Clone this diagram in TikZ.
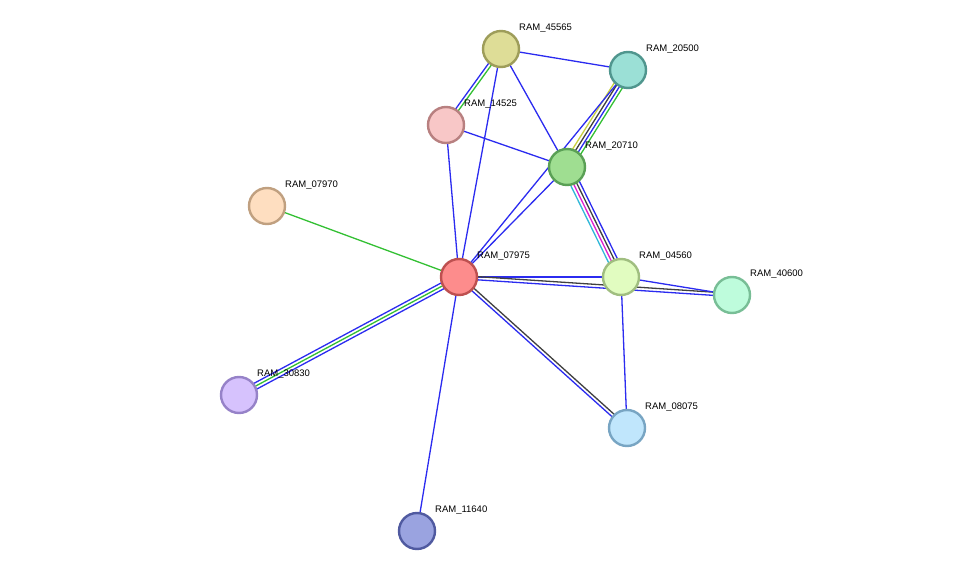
\documentclass[tikz,border=0pt]{standalone}
\usepackage{fontspec}
\setmainfont{Liberation Sans}
\usetikzlibrary{calc}
\definecolor{eb}{HTML}{2B2BF0}
\definecolor{eg}{HTML}{33C033}
\definecolor{ek}{HTML}{404040}
\definecolor{ey}{HTML}{C8D040}
\definecolor{em}{HTML}{E020D0}
\definecolor{ec}{HTML}{30B8D8}
\newcommand{\pe}[4]{\draw[#4,line width=1.3pt] ($(#1)!#3!90:(#2)$) -- ($(#2)!#3!-90:(#1)$);}
\begin{document}
\begin{tikzpicture}[x=1pt,y=-1pt,
  prot/.style={circle,minimum size=36pt,inner sep=0pt,line width=2.4pt},
  lab/.style={font=\fontsize{9.5pt}{10pt}\selectfont,anchor=south west,inner sep=0pt}]
\useasboundingbox (0,0) rectangle (975,577);
\fill[white] (0,0) rectangle (975,577);
\coordinate (n45565) at (501,49);
\coordinate (n20500) at (628,70);
\coordinate (n14525) at (446,125);
\coordinate (n20710) at (567,167);
\coordinate (n07970) at (267,206);
\coordinate (n07975) at (459,277);
\coordinate (n04560) at (621,277);
\coordinate (n40600) at (732,295);
\coordinate (n30830) at (239,395);
\coordinate (n08075) at (627,428);
\coordinate (n11640) at (417,531);
% edges
\pe{n45565}{n14525}{1.6pt}{eg}
\pe{n45565}{n14525}{-1.6pt}{eb}
\pe{n45565}{n20500}{0pt}{eb}
\pe{n45565}{n20710}{0pt}{eb}
\pe{n45565}{n07975}{0pt}{eb}
\pe{n14525}{n20710}{0pt}{eb}
\pe{n14525}{n07975}{0pt}{eb}
\pe{n20500}{n20710}{-4.8pt}{ey}
\pe{n20500}{n20710}{-1.6pt}{ek}
\pe{n20500}{n20710}{1.6pt}{eb}
\pe{n20500}{n20710}{4.8pt}{eg}
\pe{n20500}{n07975}{0pt}{eb}
\pe{n20710}{n07975}{0pt}{eb}
\pe{n20710}{n04560}{-4.8pt}{ec}
\pe{n20710}{n04560}{-1.6pt}{em}
\pe{n20710}{n04560}{1.6pt}{ek}
\pe{n20710}{n04560}{4.8pt}{eb}
\pe{n07975}{n04560}{0pt}{eb}
\pe{n07975}{n40600}{-1.6pt}{eb}
\pe{n07975}{n40600}{1.6pt}{ek}
\pe{n04560}{n40600}{0pt}{eb}
\pe{n07975}{n08075}{-1.6pt}{eb}
\pe{n07975}{n08075}{1.6pt}{ek}
\pe{n04560}{n08075}{0pt}{eb}
\pe{n07975}{n30830}{-3.2pt}{eb}
\pe{n07975}{n30830}{0pt}{eg}
\pe{n07975}{n30830}{3.2pt}{eb}
\pe{n07975}{n11640}{0pt}{eb}
\pe{n07970}{n07975}{0pt}{eg}
% nodes
\node[prot,fill={rgb,255:red,222;green,221;blue,151},draw={rgb,255:red,158;green,157;blue,90}] (a) at (n45565) {};
\node[prot,fill={rgb,255:red,155;green,224;blue,214},draw={rgb,255:red,80;green,150;blue,142}] (b) at (n20500) {};
\node[prot,fill={rgb,255:red,248;green,199;blue,199},draw={rgb,255:red,184;green,128;blue,128}] (c) at (n14525) {};
\node[prot,fill={rgb,255:red,159;green,222;blue,145},draw={rgb,255:red,90;green,160;blue,85}] (d) at (n20710) {};
\node[prot,fill={rgb,255:red,254;green,222;blue,192},draw={rgb,255:red,192;green,160;blue,128}] (e) at (n07970) {};
\node[prot,fill={rgb,255:red,253;green,140;blue,140},draw={rgb,255:red,190;green,80;blue,80}] (f) at (n07975) {};
\node[prot,fill={rgb,255:red,225;green,252;blue,192},draw={rgb,255:red,160;green,190;blue,128}] (g) at (n04560) {};
\node[prot,fill={rgb,255:red,190;green,252;blue,220},draw={rgb,255:red,120;green,190;blue,150}] (h) at (n40600) {};
\node[prot,fill={rgb,255:red,214;green,194;blue,253},draw={rgb,255:red,150;green,130;blue,200}] (i) at (n30830) {};
\node[prot,fill={rgb,255:red,192;green,230;blue,252},draw={rgb,255:red,120;green,165;blue,195}] (j) at (n08075) {};
\node[prot,fill={rgb,255:red,154;green,163;blue,224},draw={rgb,255:red,80;green,90;blue,160}] (k) at (n11640) {};
% labels
\node[lab] (la) at (519,33) {RAM\_45565};
\node[lab] (lb) at (646,54) {RAM\_20500};
\node[lab] (lc) at (464,109) {RAM\_14525};
\node[lab] (ld) at (585,151) {RAM\_20710};
\node[lab] (le) at (285,190) {RAM\_07970};
\node[lab] (lf) at (477,261) {RAM\_07975};
\node[lab] (lg) at (639,261) {RAM\_04560};
\node[lab] (lh) at (750,279) {RAM\_40600};
\node[lab] (li) at (257,379) {RAM\_30830};
\node[lab] (lj) at (645,412) {RAM\_08075};
\node[lab] (lk) at (435,515) {RAM\_11640};
\end{tikzpicture}
\end{document}
